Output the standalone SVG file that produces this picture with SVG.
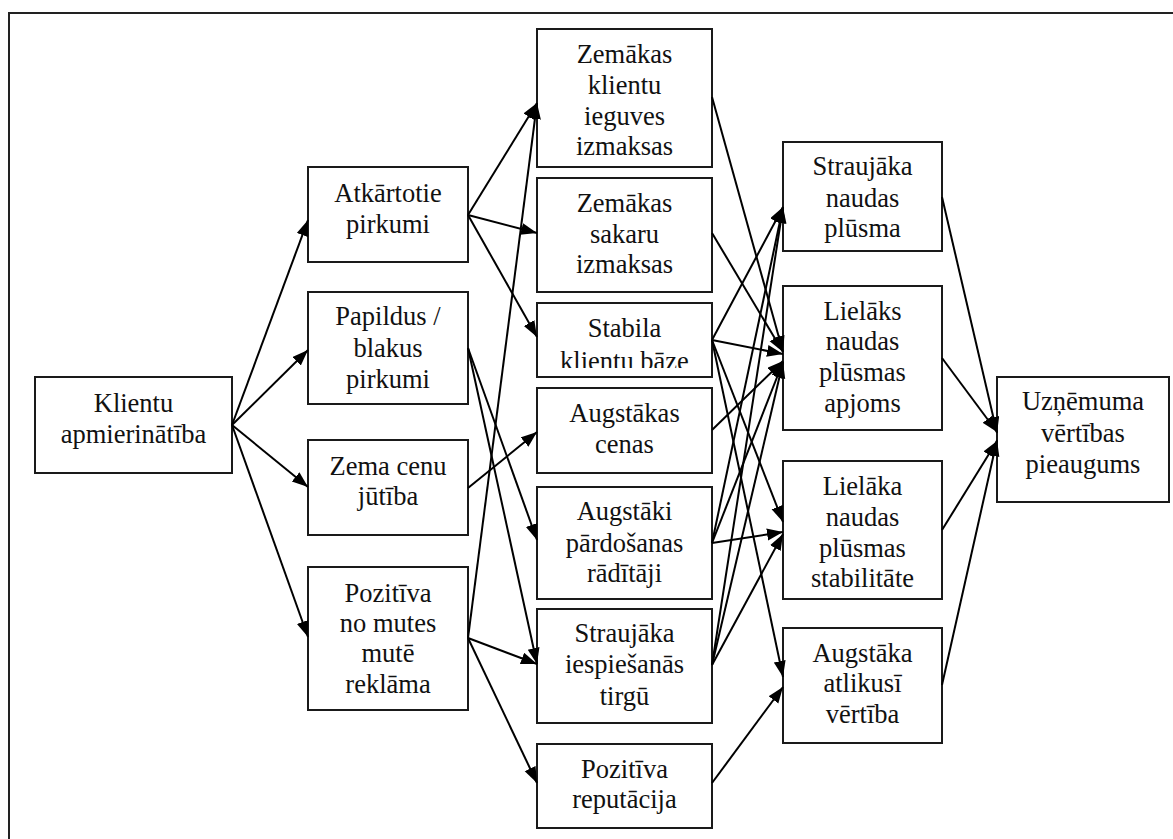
<svg xmlns="http://www.w3.org/2000/svg" width="1173" height="839" viewBox="0 0 1173 839">
<style>
.box{fill:#fff;stroke:#1a1a1a;stroke-width:2}
.t{font-family:'Liberation Serif','Times New Roman',Times,'DejaVu Serif',serif;font-size:26.5px;fill:#111;text-anchor:middle}
.c{stroke:#000;stroke-width:2;fill:none;marker-end:url(#ah)}
</style>
<defs>
<marker id="ah" markerUnits="userSpaceOnUse" markerWidth="18" markerHeight="13" refX="16" refY="6" orient="auto">
<path d="M0,0 L16,6 L0,12 z" fill="#000"/>
</marker>
<clipPath id="clipStab"><rect x="537" y="303" width="175" height="65"/></clipPath>
</defs>
<rect width="1173" height="839" fill="#fff"/>
<path d="M9,839 V13 H1173" fill="none" stroke="#222" stroke-width="2"/>

<g font-family="Liberation Serif, Times New Roman, serif">
<g id="n-klientu"><rect class="box" x="35" y="377" width="197" height="96"/><text class="t" x="133.5" y="412">Klientu</text><text class="t" x="133.5" y="443">apmierinātība</text></g>

<g id="n-atkartotie"><rect class="box" x="308" y="167" width="160" height="95"/><text class="t" x="388" y="202">Atkārtotie</text><text class="t" x="388" y="233">pirkumi</text></g>
<g id="n-papildus"><rect class="box" x="308" y="292" width="160" height="112"/><text class="t" x="388" y="325">Papildus /</text><text class="t" x="388" y="357">blakus</text><text class="t" x="388" y="388">pirkumi</text></g>
<g id="n-zema"><rect class="box" x="308" y="440" width="160" height="95"/><text class="t" x="388" y="475">Zema cenu</text><text class="t" x="388" y="505">jūtība</text></g>
<g id="n-mutes"><rect class="box" x="308" y="567" width="160" height="143"/><text class="t" x="388" y="602">Pozitīva</text><text class="t" x="388" y="632">no mutes</text><text class="t" x="388" y="662">mutē</text><text class="t" x="388" y="693">reklāma</text></g>

<g id="n-zemklientu"><rect class="box" x="537" y="29" width="175" height="138"/><text class="t" x="624.5" y="63">Zemākas</text><text class="t" x="624.5" y="94">klientu</text><text class="t" x="624.5" y="125">ieguves</text><text class="t" x="624.5" y="155">izmaksas</text></g>
<g id="n-zemsakaru"><rect class="box" x="537" y="178" width="175" height="114"/><text class="t" x="624.5" y="212">Zemākas</text><text class="t" x="624.5" y="243">sakaru</text><text class="t" x="624.5" y="273">izmaksas</text></g>
<g id="n-stabila"><rect class="box" x="537" y="303" width="175" height="74"/><text class="t" x="624.5" y="337">Stabila</text><text class="t" x="624.5" y="370" clip-path="url(#clipStab)">klientu bāze</text></g>
<g id="n-cenas"><rect class="box" x="537" y="388" width="175" height="85"/><text class="t" x="624.5" y="422">Augstākas</text><text class="t" x="624.5" y="453">cenas</text></g>
<g id="n-pardosanas"><rect class="box" x="537" y="487" width="175" height="112"/><text class="t" x="624.5" y="520">Augstāki</text><text class="t" x="624.5" y="552">pārdošanas</text><text class="t" x="624.5" y="582">rādītāji</text></g>
<g id="n-iespiesanas"><rect class="box" x="537" y="609" width="175" height="114"/><text class="t" x="624.5" y="642">Straujāka</text><text class="t" x="624.5" y="673">iespiešanās</text><text class="t" x="624.5" y="705">tirgū</text></g>
<g id="n-reputacija"><rect class="box" x="537" y="744" width="175" height="84"/><text class="t" x="624.5" y="778">Pozitīva</text><text class="t" x="624.5" y="808">reputācija</text></g>

<g id="n-naudas"><rect class="box" x="783" y="142" width="159" height="109"/><text class="t" x="862.5" y="175">Straujāka</text><text class="t" x="862.5" y="207">naudas</text><text class="t" x="862.5" y="237">plūsma</text></g>
<g id="n-apjoms"><rect class="box" x="783" y="286" width="159" height="144"/><text class="t" x="862.5" y="320">Lielāks</text><text class="t" x="862.5" y="350">naudas</text><text class="t" x="862.5" y="381">plūsmas</text><text class="t" x="862.5" y="412">apjoms</text></g>
<g id="n-stabilitate"><rect class="box" x="783" y="461" width="159" height="138"/><text class="t" x="862.5" y="495">Lielāka</text><text class="t" x="862.5" y="526">naudas</text><text class="t" x="862.5" y="557">plūsmas</text><text class="t" x="862.5" y="587">stabilitāte</text></g>
<g id="n-atlikusi"><rect class="box" x="783" y="628" width="159" height="115"/><text class="t" x="862.5" y="662">Augstāka</text><text class="t" x="862.5" y="692">atlikusī</text><text class="t" x="862.5" y="723">vērtība</text></g>

<g id="n-uznemuma"><rect class="box" x="997" y="377" width="172" height="125"/><text class="t" x="1083" y="410">Uzņēmuma</text><text class="t" x="1083" y="442">vērtības</text><text class="t" x="1083" y="473">pieaugums</text></g>
</g>

<g id="connectors">
<line class="c" x1="232" y1="425" x2="308" y2="220"/>
<line class="c" x1="232" y1="425" x2="308" y2="350"/>
<line class="c" x1="232" y1="425" x2="308" y2="487"/>
<line class="c" x1="232" y1="425" x2="308" y2="637"/>

<line class="c" x1="468" y1="215" x2="537" y2="103"/>
<line class="c" x1="468" y1="215" x2="537" y2="233"/>
<line class="c" x1="468" y1="215" x2="537" y2="337"/>
<line class="c" x1="468" y1="348" x2="537" y2="540"/>
<line class="c" x1="468" y1="348" x2="537" y2="664"/>
<line class="c" x1="468" y1="488" x2="537" y2="432"/>
<line class="c" x1="468" y1="638" x2="537" y2="103"/>
<line class="c" x1="468" y1="638" x2="537" y2="664"/>
<line class="c" x1="468" y1="638" x2="537" y2="783"/>

<line class="c" x1="712" y1="97" x2="783" y2="352"/>
<line class="c" x1="712" y1="233" x2="783" y2="352"/>
<line class="c" x1="712" y1="340" x2="783" y2="207"/>
<line class="c" x1="712" y1="340" x2="783" y2="354"/>
<line class="c" x1="712" y1="340" x2="783" y2="522"/>
<line class="c" x1="712" y1="340" x2="783" y2="677"/>
<line class="c" x1="712" y1="430" x2="783" y2="361"/>
<line class="c" x1="712" y1="543" x2="783" y2="207"/>
<line class="c" x1="712" y1="543" x2="783" y2="362"/>
<line class="c" x1="712" y1="543" x2="783" y2="532"/>
<line class="c" x1="712" y1="665" x2="783" y2="207"/>
<line class="c" x1="712" y1="665" x2="783" y2="362"/>
<line class="c" x1="712" y1="665" x2="783" y2="534"/>
<line class="c" x1="712" y1="783" x2="783" y2="687"/>

<line class="c" x1="942" y1="197" x2="997" y2="433"/>
<line class="c" x1="942" y1="358" x2="997" y2="432"/>
<line class="c" x1="942" y1="530" x2="997" y2="441"/>
<line class="c" x1="942" y1="685" x2="997" y2="440"/>
</g>
</svg>
